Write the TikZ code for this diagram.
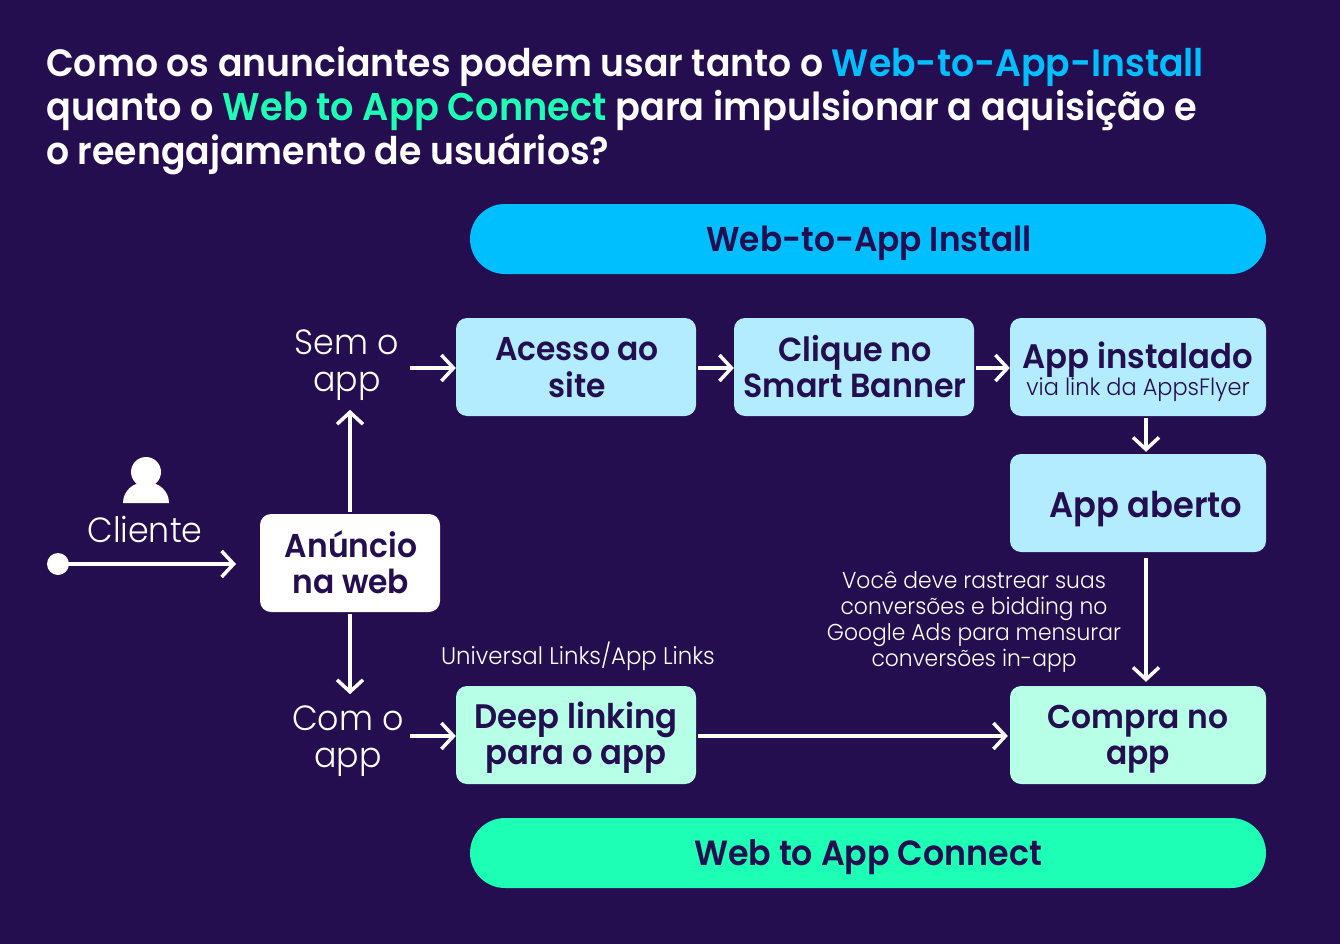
\documentclass[tikz,border=0pt]{standalone}
\usepackage{fontspec}
\setmainfont{Poppins}
\newfontfamily\fontbold[FakeStretch=0.95]{Poppins SemiBold}
\newfontfamily\fontlight[FakeStretch=0.95]{Poppins Light}
\usetikzlibrary{arrows.meta,positioning}
\definecolor{fundo}{HTML}{240E50}
\definecolor{azul}{HTML}{00BFFF}
\definecolor{verde}{HTML}{1DFFB4}
\definecolor{azulclaro}{HTML}{B3ECFF}
\definecolor{verdeclaro}{HTML}{B8FFE8}
% desce o texto dentro da caixa
\newcommand{\desce}[2]{\raisebox{-#1}[\height][\depth]{\begin{tabular}{@{}c@{}}#2\end{tabular}}}
\tikzset{
  caixa/.style={rounded corners=11pt,text=fundo,align=center,inner sep=0pt,
    minimum height=98pt,font=\fontbold\fontsize{33}{36}\selectfont},
  pilula/.style={rounded corners=35pt,text=fundo,minimum width=796pt,minimum height=70pt,
    inner sep=0pt,font=\fontbold\fontsize{35}{36}\selectfont},
  rotulo/.style={text=white,align=center,inner sep=0pt,font=\fontlight\fontsize{35}{37}\selectfont},
  nota/.style={text=white,align=center,inner sep=0pt,font=\fontlight\fontsize{23}{26}\selectfont},
  seta/.style={white,line width=3.5pt,-{Straight Barb[length=12pt,width=26pt,line width=3.5pt]}},
}
\begin{document}
\begin{tikzpicture}[x=1pt,y=-1pt]
  \fill[fundo] (0,0) rectangle (1340,944);
  \useasboundingbox (0,0) rectangle (1340,944);
  % titulo
  \node[anchor=north west,inner sep=0pt,align=left,text=white,font=\fontbold\fontsize{38.1}{44}\selectfont] (titulo) at (46,46.5)
    {Como os anunciantes podem usar tanto o \textcolor{azul}{Web-to-App-Install}\\
     \fontsize{38.6}{44}\selectfont quanto o \textcolor{verde}{Web to App Connect} para impulsionar a aquisição e\\
     \fontsize{38.1}{44}\selectfont o reengajamento de usuários?};
  % faixas
  \node[pilula,fill=azul,font=\fontbold\fontsize{34.5}{36}\selectfont] (install) at (868,239) {\hspace*{2pt}\desce{5pt}{Web-to-App Install}};
  \node[pilula,fill=verde] (connect) at (868,853) {\desce{5pt}{Web to App Connect}};
  % caixas
  \node[caixa,fill=white,minimum width=180pt] (anuncio) at (350,563) {\hspace*{2pt}\desce{4pt}{Anúncio\\na web}};
  \node[caixa,fill=azulclaro,minimum width=240pt] (acesso) at (576,367) {\hspace*{2pt}\desce{5pt}{Acesso ao\\site}};
  \node[caixa,fill=azulclaro,minimum width=240pt,font=\fontbold\fontsize{33.4}{36}\selectfont] (clique) at (854,367) {\hspace*{2pt}\desce{5pt}{Clique no\\Smart Banner}};
  \node[caixa,fill=azulclaro,minimum width=256pt,font=\fontbold\fontsize{34}{36}\selectfont] (instalado) at (1138,367)
    {\desce{7pt}{App instalado\\[-9pt]{\fontlight\fontsize{23.6}{24}\selectfont via link da AppsFlyer}}};
  \node[caixa,fill=azulclaro,minimum width=256pt,font=\fontbold\fontsize{35.5}{36}\selectfont] (aberto) at (1138,503) {\hspace*{16pt}\desce{7pt}{App aberto}};
  \node[caixa,fill=verdeclaro,minimum width=240pt,font=\fontbold\fontsize{34}{36}\selectfont] (deep) at (576,735) {\desce{4pt}{Deep linking\\para o app}};
  \node[caixa,fill=verdeclaro,minimum width=256pt] (compra) at (1138,735) {\desce{4pt}{Compra no\\app}};
  % textos
  \node[rotulo] (semapp) at (347,365) {Sem o\\app};
  \node[rotulo] (comapp) at (348,741) {Com o\\app};
  \node[rotulo] (cliente) at (145,529) {Cliente};
  \node[nota,font=\fontlight\fontsize{24}{26}\selectfont] (links) at (578,656) {Universal Links/App Links};
  \node[nota] (rastreio) at (974,622) {Você deve rastrear suas\\conversões e bidding no\\Google Ads para mensurar\\conversões in-app};
  % icone
  \fill[white] (146,472) circle (15);
  \fill[white] (123,503) .. controls (123,491) and (133,482) .. (146,482)
    .. controls (159,482) and (169,491) .. (169,503) -- cycle;
  % setas
  \fill[white] (58,564) circle (11) coordinate (inicio);
  \coordinate (fimcliente) at (236,564);
  \coordinate (semfim) at (410,368);
  \coordinate (comfim) at (410,736);
  \draw[seta] (inicio) -- (fimcliente);
  \draw[seta] (anuncio.north) ++(0,-2) -- ++(0,-102);
  \draw[seta] (anuncio.south) ++(0,2) -- ++(0,80);
  \draw[seta] (semfim) -- (semfim -| acesso.west);
  \draw[seta] (comfim) -- (comfim -| deep.west);
  \draw[seta] ([xshift=2pt,yshift=-1pt]acesso.east) -- ([yshift=-1pt]clique.west);
  \draw[seta] ([xshift=2pt,yshift=-1pt]clique.east) -- ([yshift=-1pt]instalado.west);
  \draw[seta] ([xshift=8pt,yshift=-2pt]instalado.south) -- ([xshift=8pt,yshift=2pt]aberto.north);
  \draw[seta] ([xshift=8pt,yshift=-6pt]aberto.south) -- ([xshift=8pt,yshift=4pt]compra.north);
  \draw[seta] ([xshift=2pt,yshift=-1pt]deep.east) -- ([xshift=-2pt,yshift=-1pt]compra.west);
\end{tikzpicture}
\end{document}
